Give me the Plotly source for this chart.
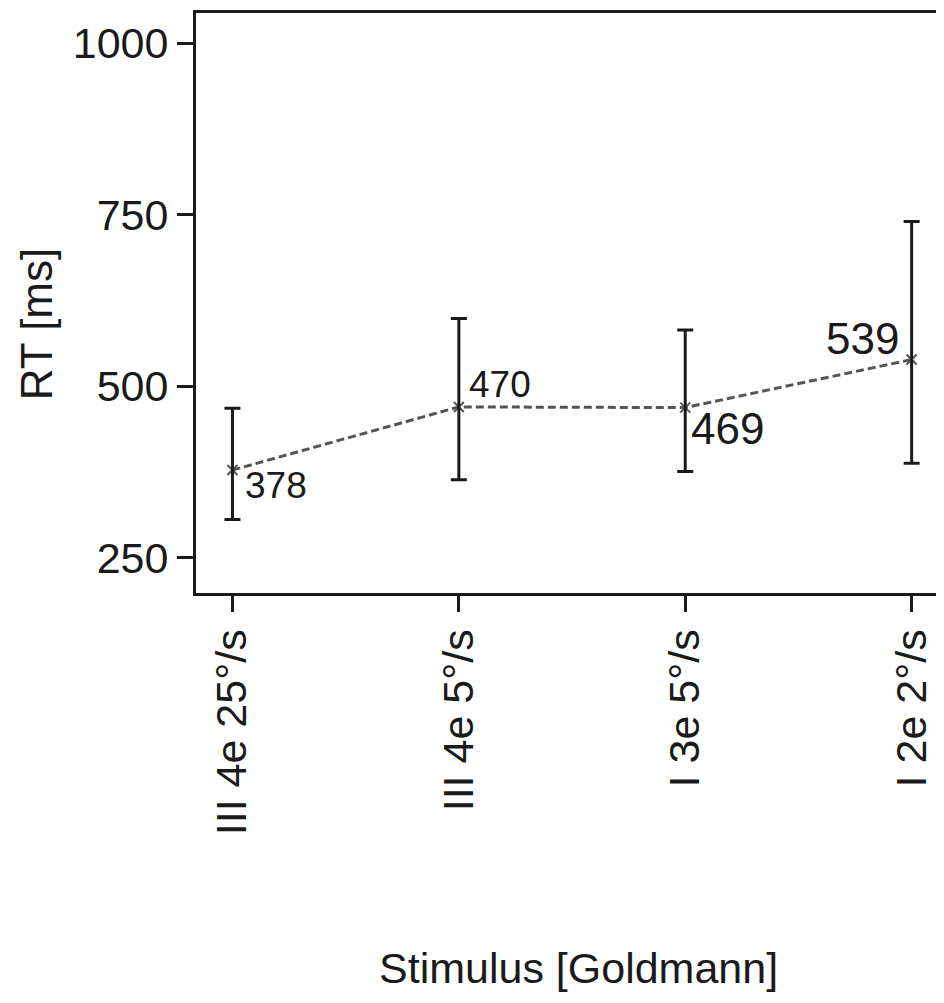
import plotly.graph_objects as go

categories = ["III 4e 25°/s", "III 4e 5°/s", "I 3e 5°/s", "I 2e 2°/s"]
mean_rt = [378, 470, 469, 539]
upper_rt = [468, 599, 582, 740]
lower_rt = [306, 364, 376, 388]
y_ticks = [250, 500, 750, 1000]

x_idx = list(range(len(categories)))
err_plus = [u - m for u, m in zip(upper_rt, mean_rt)]
err_minus = [m - l for m, l in zip(mean_rt, lower_rt)]

FONT = "Liberation Sans, Arial, Helvetica, sans-serif"
INK = "#1a1a1a"

fig = go.Figure()
fig.add_trace(go.Scatter(
    x=x_idx, y=mean_rt, mode="lines+markers",
    line=dict(color="#555555", width=3, dash="8px,4px"),
    marker=dict(symbol="x-thin", size=10, line=dict(color="#555555", width=2)),
    showlegend=False, hoverinfo="skip",
))
fig.add_trace(go.Scatter(
    x=x_idx, y=mean_rt, mode="markers",
    marker=dict(size=1, color="rgba(0,0,0,0)"),
    error_y=dict(type="data", symmetric=False, array=err_plus, arrayminus=err_minus,
                 color=INK, thickness=3, width=8),
    showlegend=False, hoverinfo="skip",
))

label_style = [
    dict(xanchor="left", xshift=11, yshift=-15, size=37),
    dict(xanchor="left", xshift=8, yshift=22, size=37),
    dict(xanchor="left", xshift=4, yshift=-21, size=44),
    dict(xanchor="right", xshift=-11, yshift=21, size=44),
]
for xi, m, st in zip(x_idx, mean_rt, label_style):
    fig.add_annotation(
        x=xi, y=m, xref="x", yref="y", text=str(m), showarrow=False,
        xanchor=st["xanchor"], yanchor="middle", xshift=st["xshift"], yshift=st["yshift"],
        font=dict(family=FONT, size=st["size"], color=INK),
    )

# axis titles
fig.add_annotation(
    x=0.512, y=-0.647, xref="paper", yref="paper", text="Stimulus [Goldmann]",
    showarrow=False, xanchor="center", yanchor="middle",
    font=dict(family=FONT, size=43, color=INK),
)
fig.add_annotation(
    x=-0.214, y=0.4634, xref="paper", yref="paper", text="RT [ms]",
    showarrow=False, xanchor="center", yanchor="middle", textangle=-90,
    font=dict(family=FONT, size=44, color=INK),
)

fig.update_xaxes(
    range=[-0.161, 3.143], tickvals=x_idx, ticktext=categories, tickangle=-90,
    showline=True, linewidth=3, linecolor=INK, mirror=True,
    ticks="outside", ticklen=16, tickwidth=3, tickcolor=INK,
    showgrid=False, zeroline=False,
    tickfont=dict(family=FONT, size=43, color=INK),
)
fig.update_yaxes(
    range=[198.9, 1043.9], tickvals=y_ticks,
    showline=True, linewidth=3, linecolor=INK, mirror=False,
    ticks="outside", ticklen=16, tickwidth=3, tickcolor=INK,
    showgrid=False, zeroline=False,
    tickfont=dict(family=FONT, size=43, color=INK),
)
fig.update_layout(
    width=936, height=995,
    margin=dict(l=188, r=0, t=5, b=410, autoexpand=False),
    paper_bgcolor="white", plot_bgcolor="white",
    font=dict(family=FONT, color=INK),
)
fig.write_html("out.html")
